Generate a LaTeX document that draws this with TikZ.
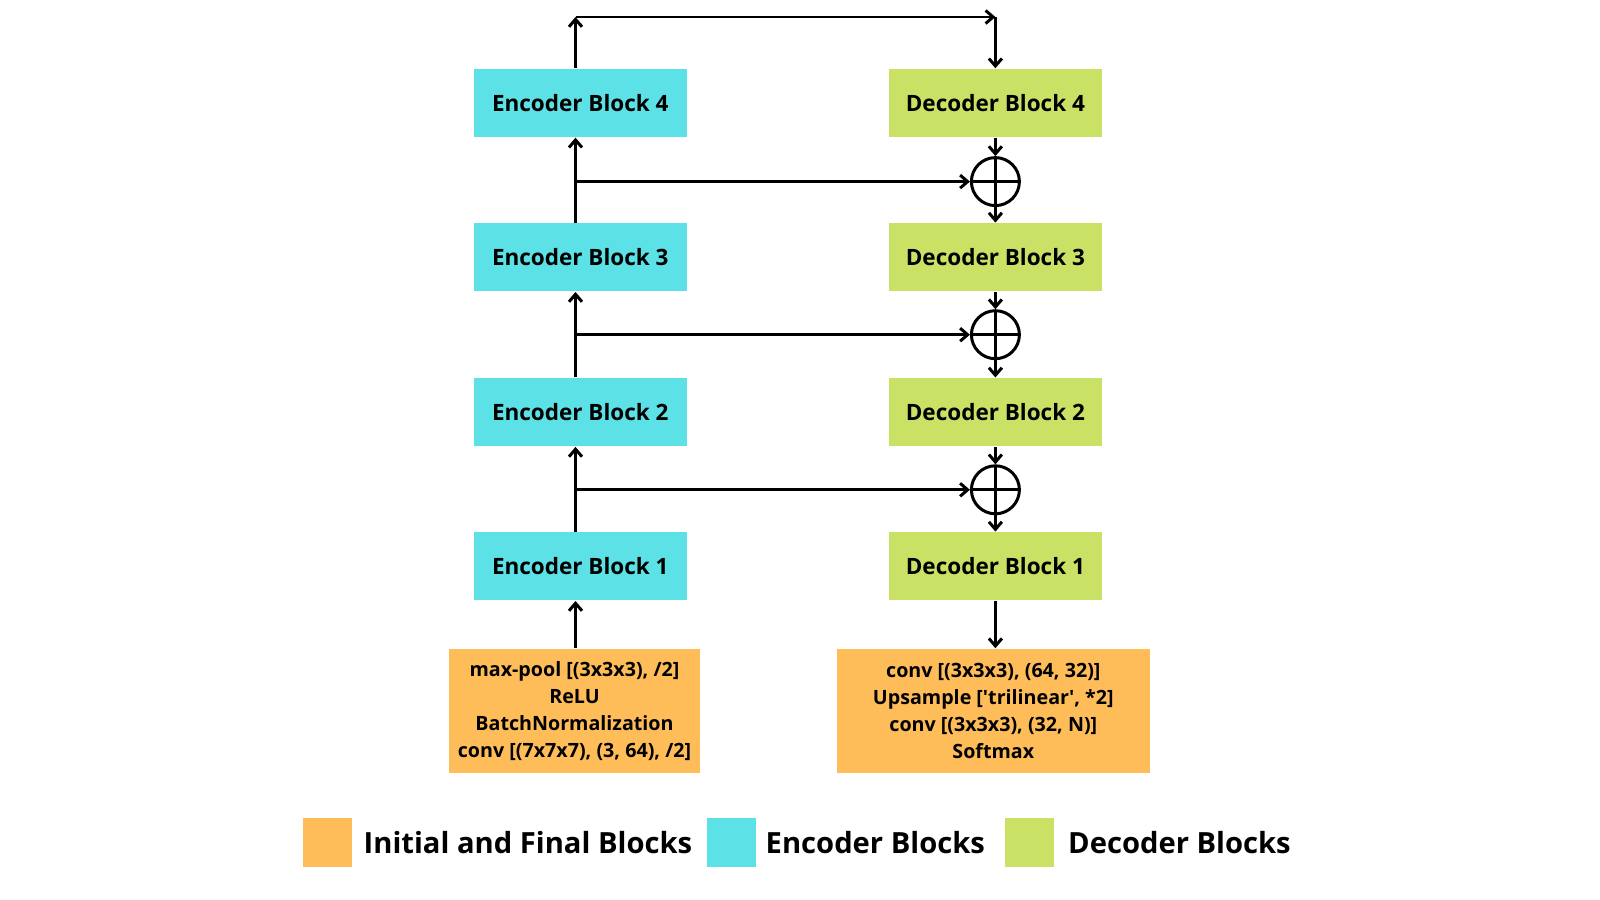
\documentclass[tikz,border=0pt]{standalone}
\usepackage{fontspec}
\setmainfont{Open Sans}
\newfontfamily\plainfont{Open Sans}
\usetikzlibrary{arrows.meta}
\definecolor{encC}{HTML}{5CE1E6}
\definecolor{decC}{HTML}{C9E265}
\definecolor{iniC}{HTML}{FFBD59}
\newcommand{\sq}{{\plainfont\bfseries '}}
\tikzset{
  blk/.style={inner sep=0pt, align=center, font=\fontsize{6.4}{7.5}\selectfont\bfseries},
  encbox/.style={blk, fill=encC, minimum width=21.35mm, minimum height=6.8mm},
  decbox/.style={blk, fill=decC, minimum width=21.35mm, minimum height=6.8mm},
  inibox/.style={blk, fill=iniC, minimum height=12.45mm, font=\fontsize{5.6}{7.7}\selectfont\bfseries},
  arr/.style={line width=0.85pt, -{Straight Barb[length=0.75mm,width=1.3mm,line width=0.85pt]}},
  plus/.style={circle, draw, line width=0.85pt, minimum size=4.8mm, inner sep=0pt,
    path picture={\draw[line width=0.85pt] (path picture bounding box.north) -- (path picture bounding box.south)
      (path picture bounding box.west) -- (path picture bounding box.east);}},
  legsq/.style={fill=#1, minimum size=4.9mm, inner sep=0pt},
  legtxt/.style={anchor=west, inner sep=0pt, font=\fontsize{8.3}{9}\selectfont\bfseries}
}
\begin{document}
\begin{tikzpicture}[x=0.1mm,y=-0.1mm]
\useasboundingbox (0,0) rectangle (1600,900);
% encoder blocks
\node[encbox] (e4) at (580.3,103) {Encoder Block 4};
\node[encbox] (e3) at (580.3,257.3) {Encoder Block 3};
\node[encbox] (e2) at (580.3,412.2) {Encoder Block 2};
\node[encbox] (e1) at (580.3,566.3) {Encoder Block 1};
% decoder blocks
\node[decbox] (d4) at (995.4,103) {Decoder Block 4};
\node[decbox] (d3) at (995.4,257.3) {Decoder Block 3};
\node[decbox] (d2) at (995.4,412.2) {Decoder Block 2};
\node[decbox] (d1) at (995.4,566.3) {Decoder Block 1};
% initial / final
\node[inibox, minimum width=25.1mm] (ini) at (574.5,711.2) {max-pool [(3x3x3), /2]\\ReLU\\BatchNormalization\\conv [(7x7x7), (3, 64), /2]};
\node[inibox, minimum width=31.35mm] (fin) at (993.3,711.2) {conv [(3x3x3), (64, 32)]\\Upsample [\sq trilinear\sq, *2]\\conv [(3x3x3), (32, N)]\\Softmax};
% sum nodes
\node[plus] (p3) at (995.4,181.6) {};
\node[plus] (p2) at (995.4,334.7) {};
\node[plus] (p1) at (995.4,489.8) {};
% branch coordinates
\coordinate (b3) at (575.5,181.6);
\coordinate (b2) at (575.5,334.7);
\coordinate (b1) at (575.5,489.8);
\coordinate (tl) at (575.5,17);
\coordinate (tr) at (995.4,17);
% encoder path
\draw[arr] (ini.north -| tl) -- (e1.south -| tl);
\draw[arr] (e1.north -| tl) -- (e2.south -| tl);
\draw[arr] (e2.north -| tl) -- (e3.south -| tl);
\draw[arr] (e3.north -| tl) -- (e4.south -| tl);
\draw[arr] (e4.north -| tl) -- (tl);
% skip connections
\draw[arr] (tl) -- (tr);
\draw[arr] (tr) -- (d4.north);
\draw[arr] (b3) -- (p3.west);
\draw[arr] (b2) -- (p2.west);
\draw[arr] (b1) -- (p1.west);
% decoder path
\draw[arr] (d4.south) -- (p3.north);
\draw[arr] (p3.south) -- (d3.north);
\draw[arr] (d3.south) -- (p2.north);
\draw[arr] (p2.south) -- (d2.north);
\draw[arr] (d2.south) -- (p1.north);
\draw[arr] (p1.south) -- (d1.north);
\draw[arr] (d1.south) -- (d1.south |- fin.north);
% legend
\node[legsq=iniC] (l1) at (327.8,842.2) {};
\node[legsq=encC] (l2) at (731.5,842.2) {};
\node[legsq=decC] (l3) at (1029.5,842.2) {};
\node[legtxt] (t1) at (363,842.2) {Initial and Final Blocks};
\node[legtxt] (t2) at (765,842.2) {Encoder Blocks};
\node[legtxt] (t3) at (1067.5,842.2) {Decoder Blocks};
\end{tikzpicture}
\end{document}
